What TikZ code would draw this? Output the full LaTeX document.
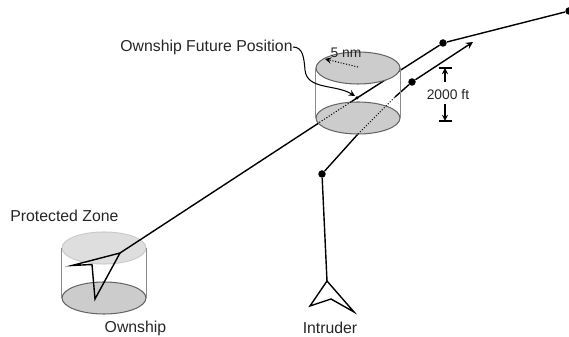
\documentclass[tikz,border=0pt]{standalone}
\usepackage{fontspec}
\setmainfont{Liberation Sans}
\usepackage{xcolor}
\usepackage{tikz}
\usetikzlibrary{shapes.geometric, arrows}
\definecolor{zonefill}{gray}{0.80}
\definecolor{zonelight}{gray}{0.87}
\tikzstyle{zone} = [ellipse, minimum width=1.68cm, minimum height=0.64cm, inner sep=0pt, draw=black!60, fill=zonefill, semithick]
\tikzstyle{lzone} = [ellipse, minimum width=1.68cm, minimum height=0.64cm, inner sep=0pt, draw=black!20, fill=zonelight, semithick]
\tikzstyle{wall} = [draw=black!45]
\tikzstyle{track} = [thick, black]
\tikzstyle{hidden} = [densely dotted, black, semithick]
\tikzstyle{arrow} = [thick,->,>=stealth]
\tikzstyle{thinarrow} = [semithick,->,>=stealth]
\tikzstyle{fix} = [circle, fill=black, inner sep=0pt, minimum size=0.15cm]
\tikzstyle{label} = [inner sep=0pt, text=black!85, font=\fontsize{9pt}{11pt}\selectfont]
\tikzstyle{smalllabel} = [inner sep=0pt, text=black!85, font=\fontsize{7.9pt}{10pt}\selectfont]

\begin{document}
\begin{tikzpicture}[x=0.02cm, y=-0.02cm]
\useasboundingbox (0,0) rectangle (569,337);

% ownship path and intruder path
\coordinate (ownNose) at (120,253);
\coordinate (ownLeft) at (72,265.5);
\coordinate (ownNotch) at (92,264.5);
\coordinate (ownTail) at (95,299);
\coordinate (ownIn) at (317,124);
\coordinate (future) at (357,98);
\coordinate (intIn) at (358,134);
\coordinate (intOut) at (395,97);
\coordinate (intNose) at (327,281);
\coordinate (intLeft) at (310,306);
\coordinate (intNotch) at (331,299);
\coordinate (intRight) at (354,312);
\node (turn) [fix] at (443,43) {};
\node (end) [fix] at (569,11) {};
\node (intA) [fix] at (322,174) {};
\node (intB) [fix] at (412,82) {};
\coordinate (intHead) at (473,42);

% protected zone around ownship
\node (lowOwn) [zone] at (104,298) {};
\node (topOwn) [lzone] at (104,248) {};
\draw [wall] (topOwn.west) -- (lowOwn.west);
\draw [wall] (topOwn.east) -- (lowOwn.east);

\draw [track] (ownNose) -- (future) -- (turn) -- (end);
\draw [track] (intNose) -- (intA) -- (intIn);
\draw [track] (intOut) -- (intB);
\draw [arrow] (intB) -- (intHead);

% zone at the future position
\node (low) [zone] at (358,118) {};
\node (top) [zone] at (358,68) {};
\draw [wall] (top.west) -- (low.west);
\draw [wall] (top.east) -- (low.east);
\draw [hidden] (ownIn) -- (future);
\draw [hidden] (intIn) -- (intOut);

\draw [track] (ownNose) -- (ownLeft) -- (ownNotch) -- (ownTail) -- cycle;
\draw [track] (intNose) -- (intLeft) -- (intNotch) -- (intRight) -- cycle;
\node (dotfuture) [fix, minimum size=0.07cm] at (future) {};

% labels
\node (protected) [label, anchor=west] at (10,216) {Protected Zone};
\node (ownship) [label] at (135.5,328) {Ownship};
\node (intruder) [label] at (330,328) {Intruder};
\node (ownfuture) [label, anchor=west] at (120,47) {Ownship Future Position};
\node (radius) [smalllabel] at (346,53) {5 nm};
\node (height) [smalllabel] at (448,95) {2000 ft};

\coordinate (radiusA) at (358,67);
\coordinate (radiusB) at (325,59);
\draw [thinarrow, densely dotted] (radiusA) -- (radiusB);
\coordinate (tickTopL) at (439,68);
\coordinate (tickTopR) at (452,68);
\coordinate (tickTop) at (445,68);
\coordinate (tickLowL) at (439,121);
\coordinate (tickLowR) at (452,121);
\coordinate (tickLow) at (445,121);
\coordinate (gapTop) at (445,82);
\coordinate (gapLow) at (445,104);
\draw [semithick] (tickTopL) -- (tickTopR);
\draw [semithick] (tickLowL) -- (tickLowR);
\draw [thinarrow] (gapTop) -- (tickTop);
\draw [thinarrow] (gapLow) -- (tickLow);
\draw [semithick,->,>=stealth] (ownfuture.east) .. controls (303,47) and (304,58) .. (305,70) .. controls (307,90) and (335,84) .. (355,96);

\end{tikzpicture}
\end{document}
